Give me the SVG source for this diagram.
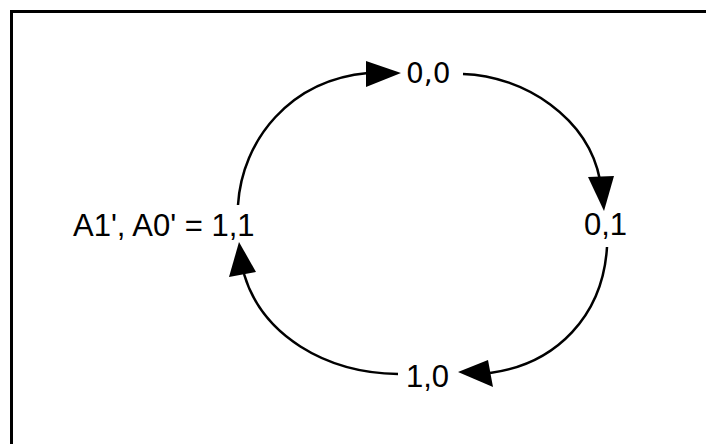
<svg xmlns="http://www.w3.org/2000/svg" width="706" height="444" viewBox="0 0 706 444">
<style>
.lbl{font-family:"Liberation Sans",Arial,sans-serif;font-size:31px;fill:#000}
.lbl2{font-family:"DejaVu Sans",sans-serif;font-size:28px;fill:#000}
.edge{fill:none;stroke:#000;stroke-width:2.5}
.head{fill:#000;stroke:none}
</style>
<rect x="0" y="0" width="706" height="444" fill="#fff"/>
<rect x="11.5" y="11.5" width="720" height="460" fill="none" stroke="#000" stroke-width="3"/>
<g id="connectors">
  <path class="edge" d="M 238 205 C 242 140 290 80 368 73"/>
  <polygon class="head" points="401,73 366,61 366,87"/>
  <path class="edge" d="M 463 74 C 525 76 588 118 600 180"/>
  <polygon class="head" points="604,211 588,177 614,176"/>
  <path class="edge" d="M 607 247 C 603 315 557 364 490 373"/>
  <polygon class="head" points="458,372 488,360 493,387"/>
  <path class="edge" d="M 398 374 C 325 373 262 335 244 274"/>
  <polygon class="head" points="239,242 229,277 256,272"/>
</g>
<g id="node-00"><text class="lbl2" x="406" y="83">0,0</text></g>
<g id="node-01"><text class="lbl" x="584" y="235">0,1</text></g>
<g id="node-10"><text class="lbl" x="406" y="387">1,0</text></g>
<g id="node-11"><text class="lbl" x="73" y="236">A1', A0' = 1,1</text></g>
</svg>
